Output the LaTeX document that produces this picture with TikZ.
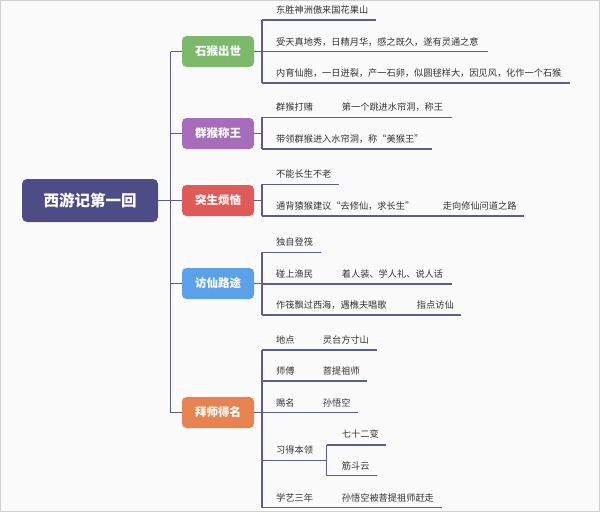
\documentclass[tikz,border=0pt]{standalone}
\usepackage{fontspec}
\setmainfont{Noto Sans CJK SC}
\definecolor{bgc}{HTML}{FBFBFB}
\definecolor{framec}{HTML}{D0D0D0}
\definecolor{linec}{HTML}{5E5D92}
\definecolor{rootc}{HTML}{4E4C87}
\definecolor{greenc}{HTML}{7DB96A}
\definecolor{purplec}{HTML}{A66DBA}
\definecolor{redc}{HTML}{E05A5A}
\definecolor{bluec}{HTML}{5CA0E8}
\definecolor{orangec}{HTML}{E8834F}
\definecolor{txtc}{HTML}{333333}
\tikzset{
  rootbox/.style={draw=none,fill=rootc,rounded corners=5pt,minimum width=136pt,minimum height=43pt,inner sep=0pt,text=white,font=\fontsize{15.5}{17}\selectfont\bfseries},
  topicbox/.style={draw=none,rounded corners=4.5pt,minimum width=72pt,minimum height=31pt,inner sep=0pt,text=white,font=\fontsize{11.5}{13}\selectfont\bfseries},
  leaf/.style={anchor=base west,inner sep=0pt,text=txtc,font=\fontsize{9.2}{11}\selectfont},
  conn/.style={draw=linec,line width=1.3pt},
}
\begin{document}
\begin{tikzpicture}[x=1pt,y=-1pt]
\path[fill=bgc,draw=framec,line width=1.2pt] (0.6,0.6) rectangle (599.4,511.4);
\useasboundingbox (0,0) rectangle (600,512);

% root and topics
\node[rootbox] (root) at (90,200.5) {西游记第一回};
\node[topicbox,fill=greenc] (t1) at (218,51.5) {石猴出世};
\node[topicbox,fill=purplec] (t2) at (218,133.5) {群猴称王};
\node[topicbox,fill=redc] (t3) at (218,200.5) {突生烦恼};
\node[topicbox,fill=bluec] (t4) at (218,283.5) {访仙路途};
\node[topicbox,fill=orangec] (t5) at (218,412.5) {拜师得名};

% trunk
\coordinate (trunkTop) at (170.7,51.5);
\coordinate (trunkBot) at (170.7,412.5);
\coordinate (trunkMid) at (170.7,200.5);
\draw[conn] (trunkTop) -- (trunkBot);
\draw[conn] (root.east) -- (trunkMid);
\foreach \t in {t1,t2,t3,t4,t5}{
  \draw[conn] (trunkTop |- \t.west) -- (\t.west);
}

% ---------- topic 1 ----------
\coordinate (b1) at (262,51.5);
\draw[conn] (t1.east) -- (b1);
\coordinate (a1) at (262,20);   \coordinate (e1) at (376,20);
\coordinate (a2) at (262,51.5); \coordinate (e2) at (488,51.5);
\coordinate (a3) at (262,83);   \coordinate (e3) at (570,83);
\draw[conn] (a1) -- (a3);
\draw[conn] (a1) -- (e1);
\draw[conn] (a2) -- (e2);
\draw[conn] (a3) -- (e3);
\node[leaf] (l1) at (276,13.5) {东胜神洲傲来国花果山};
\node[leaf] (l2) at (276,45) {受天真地秀，日精月华，感之既久，遂有灵通之意};
\node[leaf] (l3) at (276,76.5) {内育仙胞，一日迸裂，产一石卵，似圆毬样大，因见风，化作一个石猴};

% ---------- topic 2 ----------
\coordinate (b2) at (262,133.5);
\draw[conn] (t2.east) -- (b2);
\coordinate (a4) at (262,117.3); \coordinate (m4) at (330,117.3); \coordinate (e4) at (452,117.3);
\coordinate (a5) at (262,149);   \coordinate (e5) at (432,149);
\draw[conn] (a4) -- (a5);
\draw[conn] (a4) -- (m4);
\draw[conn] (m4) -- (e4);
\draw[conn] (a5) -- (e5);
\node[leaf] (l4) at (276,110.8) {群猴打赌};
\node[leaf] (l4b) at (341.7,110.8) {第一个跳进水帘洞，称王};
\node[leaf] (l5) at (276,142.5) {带领群猴进入水帘洞，称“美猴王”};

% ---------- topic 3 ----------
\coordinate (b3) at (262,200.5);
\draw[conn] (t3.east) -- (b3);
\coordinate (a6) at (262,184.3); \coordinate (e6) at (339,184.3);
\coordinate (a7) at (262,216);   \coordinate (m7) at (430,216); \coordinate (e7) at (524,216);
\draw[conn] (a6) -- (a7);
\draw[conn] (a6) -- (e6);
\draw[conn] (a7) -- (m7);
\draw[conn] (m7) -- (e7);
\node[leaf] (l6) at (276,177.8) {不能长生不老};
\node[leaf] (l7) at (276,209.5) {通背猿猴建议“去修仙，求长生”};
\node[leaf] (l7b) at (442.7,209.5) {走向修仙问道之路};

% ---------- topic 4 ----------
\coordinate (b4) at (262,283.5);
\draw[conn] (t4.east) -- (b4);
\coordinate (a8) at (262,252.3);  \coordinate (e8) at (321,252.3);
\coordinate (a9) at (262,284);    \coordinate (m9) at (330,284); \coordinate (e9) at (452,284);
\coordinate (a10) at (262,315);   \coordinate (m10) at (405,315); \coordinate (e10) at (461,315);
\draw[conn] (a8) -- (a10);
\draw[conn] (a8) -- (e8);
\draw[conn] (a9) -- (m9);
\draw[conn] (m9) -- (e9);
\draw[conn] (a10) -- (m10);
\draw[conn] (m10) -- (e10);
\node[leaf] (l8) at (276,245.8) {独自登筏};
\node[leaf] (l9) at (276,277.5) {碰上渔民};
\node[leaf] (l9b) at (341.7,277.5) {着人装、学人礼、说人话};
\node[leaf] (l10) at (276,308.5) {作筏飘过西海，遇樵夫唱歌};
\node[leaf] (l10b) at (416.7,308.5) {指点访仙};

% ---------- topic 5 ----------
\coordinate (b5) at (262,412.5);
\draw[conn] (t5.east) -- (b5);
\coordinate (a11) at (262,350);   \coordinate (m11) at (312,350);   \coordinate (e11) at (377,350);
\coordinate (a12) at (262,381);   \coordinate (m12) at (312,381);   \coordinate (e12) at (367,381);
\coordinate (a13) at (262,412.7); \coordinate (m13) at (312,412.7); \coordinate (e13) at (358,412.7);
\coordinate (a14) at (262,460.7); \coordinate (s14) at (326.7,460.7);
\coordinate (a15) at (262,507.5); \coordinate (m15) at (330,507.5); \coordinate (e15) at (442,507.5);
\draw[conn] (a11) -- (a15);
\draw[conn] (a11) -- (m11); \draw[conn] (m11) -- (e11);
\draw[conn] (a12) -- (m12); \draw[conn] (m12) -- (e12);
\draw[conn] (a13) -- (m13); \draw[conn] (m13) -- (e13);
\draw[conn] (a14) -- (s14);
\draw[conn] (a15) -- (m15); \draw[conn] (m15) -- (e15);
\coordinate (s1) at (326.7,445);   \coordinate (f1) at (386,445);
\coordinate (s2) at (326.7,475.7); \coordinate (f2) at (377,475.7);
\draw[conn] (s1) -- (s2);
\draw[conn] (s1) -- (f1);
\draw[conn] (s2) -- (f2);
\node[leaf] (l11) at (276,343.5) {地点};
\node[leaf] (l11b) at (322.7,343.5) {灵台方寸山};
\node[leaf] (l12) at (276,374.5) {师傅};
\node[leaf] (l12b) at (322.7,374.5) {菩提祖师};
\node[leaf] (l13) at (276,406) {赐名};
\node[leaf] (l13b) at (322.7,406) {孙悟空};
\node[leaf] (l14) at (276,453.5) {习得本领};
\node[leaf] (l14a) at (341.7,437.8) {七十二变};
\node[leaf] (l14b) at (341.7,469.2) {筋斗云};
\node[leaf] (l15) at (276,501) {学艺三年};
\node[leaf] (l15b) at (341.7,501) {孙悟空被菩提祖师赶走};
\end{tikzpicture}
\end{document}
